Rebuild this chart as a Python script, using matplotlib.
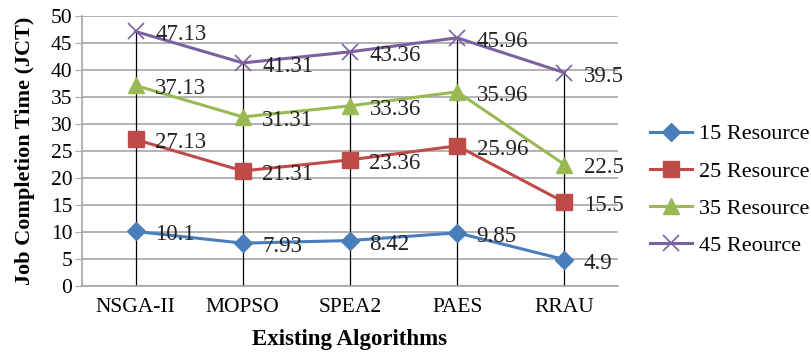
import matplotlib
matplotlib.use("Agg")
import matplotlib.pyplot as plt

categories = ["NSGA-II", "MOPSO", "SPEA2", "PAES", "RRAU"]
series_names = ["15 Resource", "25 Resource", "35 Resource", "45 Reource"]
s15 = [10.1, 7.93, 8.42, 9.85, 4.9]
s25 = [27.13, 21.31, 23.36, 25.96, 15.5]
s35 = [37.13, 31.31, 33.36, 35.96, 22.5]
s45 = [47.13, 41.31, 43.36, 45.96, 39.5]
label_texts = [
    ["10.1", "7.93", "8.42", "9.85", "4.9"],
    ["27.13", "21.31", "23.36", "25.96", "15.5"],
    ["37.13", "31.31", "33.36", "35.96", "22.5"],
    ["47.13", "41.31", "43.36", "45.96", "39.5"],
]
yticks = [0, 5, 10, 15, 20, 25, 30, 35, 40, 45, 50]

colors = ["#4A7EBB", "#BE4B48", "#98B954", "#7D60A0"]
markers = ["D", "s", "^", "x"]
msizes = [9, 12, 11, 11]

plt.rcParams["font.family"] = ["Liberation Serif", "DejaVu Serif"]

fig = plt.figure(figsize=(8.11, 3.52), dpi=100)
ax = fig.add_axes([82/811, 1 - 286/352, (618-82)/811, (286-16)/352])

x = list(range(len(categories)))
all_series = [s15, s25, s35, s45]

# drop lines from 0 to the top series
tops = [max(v) for v in zip(*all_series)]
ax.vlines(x, 0, tops, colors="black", linewidth=0.9, zorder=2)

for vals, c, m, ms, name, labs in zip(all_series, colors, markers, msizes, series_names, label_texts):
    kw = dict(markeredgewidth=1.2) if m == "x" else dict(markeredgecolor=c)
    ax.plot(x, vals, color=c, linewidth=2.2, marker=m, markersize=ms, label=name, zorder=3, **kw)
    for xi, v, t in zip(x, vals, labs):
        ax.annotate(t, (xi, v), xytext=(14, -2.5), textcoords="offset points",
                    ha="left", va="center", fontsize=16.5, color="#222222", zorder=4)

ax.set_xlim(-0.5, 4.5)
ax.set_ylim(0, 50)
ax.set_yticks(yticks)
ax.set_xticks(x)
ax.set_xticklabels(categories)
ax.grid(axis="y", color="#A6A6A6", linewidth=1.2)
ax.set_axisbelow(True)
for s in ["top", "right"]:
    ax.spines[s].set_visible(False)
for s in ["left", "bottom"]:
    ax.spines[s].set_color("#A6A6A6")
    ax.spines[s].set_linewidth(1.2)
ax.tick_params(axis="y", length=5, color="#A6A6A6", labelsize=15.5, pad=2)
ax.tick_params(axis="x", length=0, labelsize=15.5, pad=9)

ax.set_ylabel("Job Completion Time (JCT)", fontsize=16, fontweight="bold", labelpad=11)
ax.set_xlabel("Existing Algorithms", fontsize=16.5, fontweight="bold", labelpad=8)

leg = fig.legend(loc="center left", bbox_to_anchor=(650/811, 1 - 190/352), frameon=False,
                 fontsize=16, handlelength=1.9, labelspacing=0.75, handletextpad=0.3,
                 borderaxespad=0, borderpad=0)

fig.savefig("out.png", dpi=100)
